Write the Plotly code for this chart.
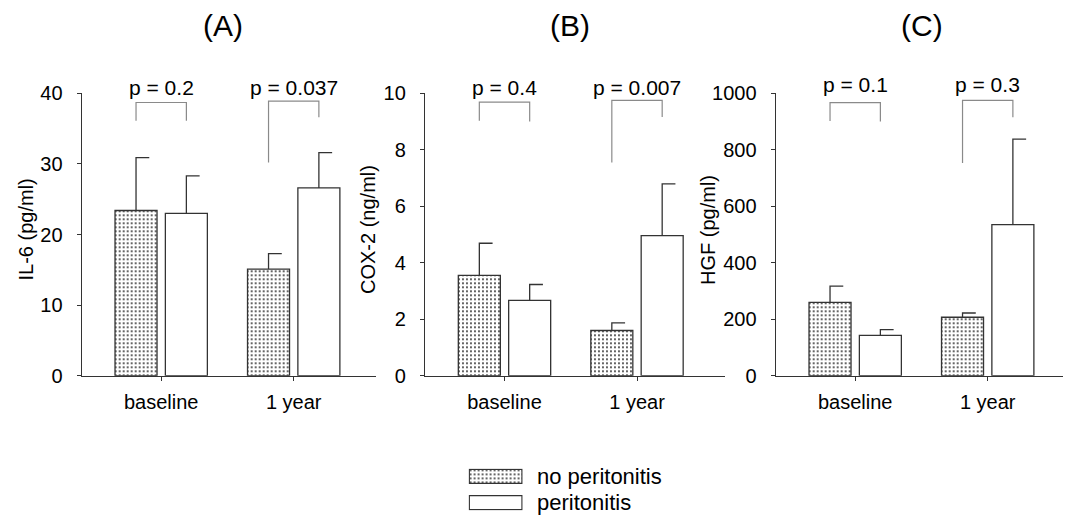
import plotly.graph_objects as go

# ---------------- data ----------------
groups = ["baseline", "1 year"]
series_names = ["no peritonitis", "peritonitis"]

il6_no = [23.4, 15.1]
il6_no_err = [7.5, 2.2]
il6_per = [23.0, 26.6]
il6_per_err = [5.3, 5.0]

cox2_no = [3.55, 1.6]
cox2_no_err = [1.14, 0.27]
cox2_per = [2.67, 4.96]
cox2_per_err = [0.56, 1.83]

hgf_no = [260, 207]
hgf_no_err = [57, 15]
hgf_per = [143, 535]
hgf_per_err = [20, 303]

il6_p = ["p = 0.2", "p = 0.037"]
cox2_p = ["p = 0.4", "p = 0.007"]
hgf_p = ["p = 0.1", "p = 0.3"]

# bracket levels: (left leg bottom, top, right leg bottom) per group
il6_brackets = [(36.1, 38.7, 36.1), (30.2, 38.9, 36.6)]
cox2_brackets = [(9.03, 9.69, 9.0), (7.55, 9.75, 9.16)]
hgf_brackets = [(902, 967, 900), (753, 975, 915)]

panel_titles = ["(A)", "(B)", "(C)"]
y_titles = ["IL-6 (pg/ml)", "COX-2 (ng/ml)", "HGF (pg/ml)"]
y_ranges = [[0, 40], [0, 10], [0, 1000]]
y_dticks = [10, 2, 200]

# ---------------- layout constants ----------------
W, H = 1073, 515
FONT = "Liberation Sans, Arial, sans-serif"
AX = "#333333"
BR = "#8a8a8a"
BAR_W = 0.317
OFF = 0.19
CAP = 0.1

panels = [
    dict(no=il6_no, no_err=il6_no_err, per=il6_per, per_err=il6_per_err,
         p=il6_p, br=il6_brackets, x0=81.7, x1=375.5, py=88),
    dict(no=cox2_no, no_err=cox2_no_err, per=cox2_per, per_err=cox2_per_err,
         p=cox2_p, br=cox2_brackets, x0=425.0, x1=725.0, py=88),
    dict(no=hgf_no, no_err=hgf_no_err, per=hgf_per, per_err=hgf_per_err,
         p=hgf_p, br=hgf_brackets, x0=775.7, x1=1063.0, py=84),
]
title_x = [223, 570, 922]
ytitle_x = [25.5, 368, 708]
PX_PER_UNIT = 132.5
Y_TOP_PX, Y_BOT_PX = 93.3, 375.7

fig = go.Figure()
layout = dict(
    template="none",
    width=W, height=H, margin=dict(l=0, r=0, t=0, b=0, pad=0, autoexpand=False),
    paper_bgcolor="white", plot_bgcolor="white",
    font=dict(family=FONT, size=20, color="black"),
    showlegend=False, barmode="overlay",
)
annotations = []

pattern = dict(shape=".", size=4, solidity=0.18, fgcolor="#2a2a2a", bgcolor="white")

for i, pn in enumerate(panels):
    sfx = "" if i == 0 else str(i + 1)
    xa, ya = "x" + sfx, "y" + sfx
    idx = list(range(len(groups)))
    x_no = [g - OFF for g in idx]
    x_per = [g + OFF for g in idx]

    fig.add_trace(go.Bar(x=x_no, y=pn["no"], width=BAR_W, xaxis=xa, yaxis=ya,
                         marker=dict(color="white", pattern=pattern,
                                     line=dict(color=AX, width=1.3)),
                         name=series_names[0], hoverinfo="y"))
    fig.add_trace(go.Bar(x=x_per, y=pn["per"], width=BAR_W, xaxis=xa, yaxis=ya,
                         marker=dict(color="white", line=dict(color=AX, width=1.3)),
                         name=series_names[1], hoverinfo="y"))

    # one-sided error bars with right-pointing cap
    ex, ey = [], []
    for xs, vals, errs in ((x_no, pn["no"], pn["no_err"]), (x_per, pn["per"], pn["per_err"])):
        for xc, v, e in zip(xs, vals, errs):
            ex += [xc, xc, xc + CAP, None]
            ey += [v, v + e, v + e, None]
    fig.add_trace(go.Scatter(x=ex, y=ey, mode="lines", xaxis=xa, yaxis=ya,
                             line=dict(color=AX, width=1.3), hoverinfo="skip"))

    # significance brackets
    bx, by = [], []
    for g, (lb, top, rb) in zip(idx, pn["br"]):
        bx += [g - OFF, g - OFF, g + OFF, g + OFF, None]
        by += [lb, top, top, rb, None]
    fig.add_trace(go.Scatter(x=bx, y=by, mode="lines", xaxis=xa, yaxis=ya,
                             line=dict(color=BR, width=1.2), hoverinfo="skip"))

    for g, txt in zip(idx, pn["p"]):
        annotations.append(dict(x=g, xref=xa, y=1 - pn["py"] / H, yref="paper",
                                text=txt, showarrow=False, xanchor="center",
                                yanchor="middle", font=dict(size=21)))

    x_end = (pn["x1"] - pn["x0"]) / PX_PER_UNIT - 0.6
    layout["xaxis" + sfx] = dict(
        domain=[pn["x0"] / W, pn["x1"] / W], range=[-0.6, x_end],
        anchor=ya, tickvals=idx, ticktext=groups, ticks="outside", ticklen=4,
        tickcolor=AX, showline=True, linecolor=AX, linewidth=1.3,
        showgrid=False, zeroline=False, ticklabelstandoff=4, automargin=False,
        tickfont=dict(size=20), fixedrange=True,
    )
    layout["yaxis" + sfx] = dict(
        domain=[1 - Y_BOT_PX / H, 1 - Y_TOP_PX / H], range=y_ranges[i],
        anchor=xa, dtick=y_dticks[i], tick0=0, ticks="outside", ticklen=4,
        tickcolor=AX, showline=True, linecolor=AX, linewidth=1.3,
        showgrid=False, zeroline=False, ticklabelstandoff=10, automargin=False,
        tickfont=dict(size=20), fixedrange=True,
    )
    annotations.append(dict(x=title_x[i] / W, y=1 - 26 / H, xref="paper", yref="paper",
                            text=panel_titles[i], showarrow=False, xanchor="center",
                            yanchor="middle", font=dict(size=30)))
    annotations.append(dict(x=ytitle_x[i] / W, y=1 - 230 / H, xref="paper", yref="paper",
                            text=y_titles[i], showarrow=False, textangle=-90,
                            xanchor="center", yanchor="middle", font=dict(size=20)))

# ---------------- legend (drawn as small bar axes) ----------------
leg_y = [1, 0]
fig.add_trace(go.Bar(x=[1], y=[leg_y[0]], base=0, orientation="h", width=0.53,
                     xaxis="x4", yaxis="y4",
                     marker=dict(color="white", pattern=pattern, line=dict(color=AX, width=1.3)),
                     hoverinfo="skip"))
fig.add_trace(go.Bar(x=[1], y=[leg_y[1]], base=0, orientation="h", width=0.53,
                     xaxis="x4", yaxis="y4",
                     marker=dict(color="white", line=dict(color=AX, width=1.3)),
                     hoverinfo="skip"))
layout["xaxis4"] = dict(domain=[468.6 / W, 522.7 / W], range=[-0.013, 1.013], visible=False,
                        anchor="y4", fixedrange=True, automargin=False)
layout["yaxis4"] = dict(domain=[1 - 510.6 / H, 1 - 468.4 / H], range=[-0.3, 1.3], visible=False,
                        anchor="x4", fixedrange=True, automargin=False)
for name, yc in zip(series_names, [476.3, 502.7]):
    annotations.append(dict(x=535 / W, y=1 - yc / H, xref="paper", yref="paper",
                            text=name, showarrow=False, xanchor="left", yanchor="middle",
                            font=dict(size=22)))

layout["annotations"] = annotations
fig.update_layout(**layout)
fig.write_html("out.html")
